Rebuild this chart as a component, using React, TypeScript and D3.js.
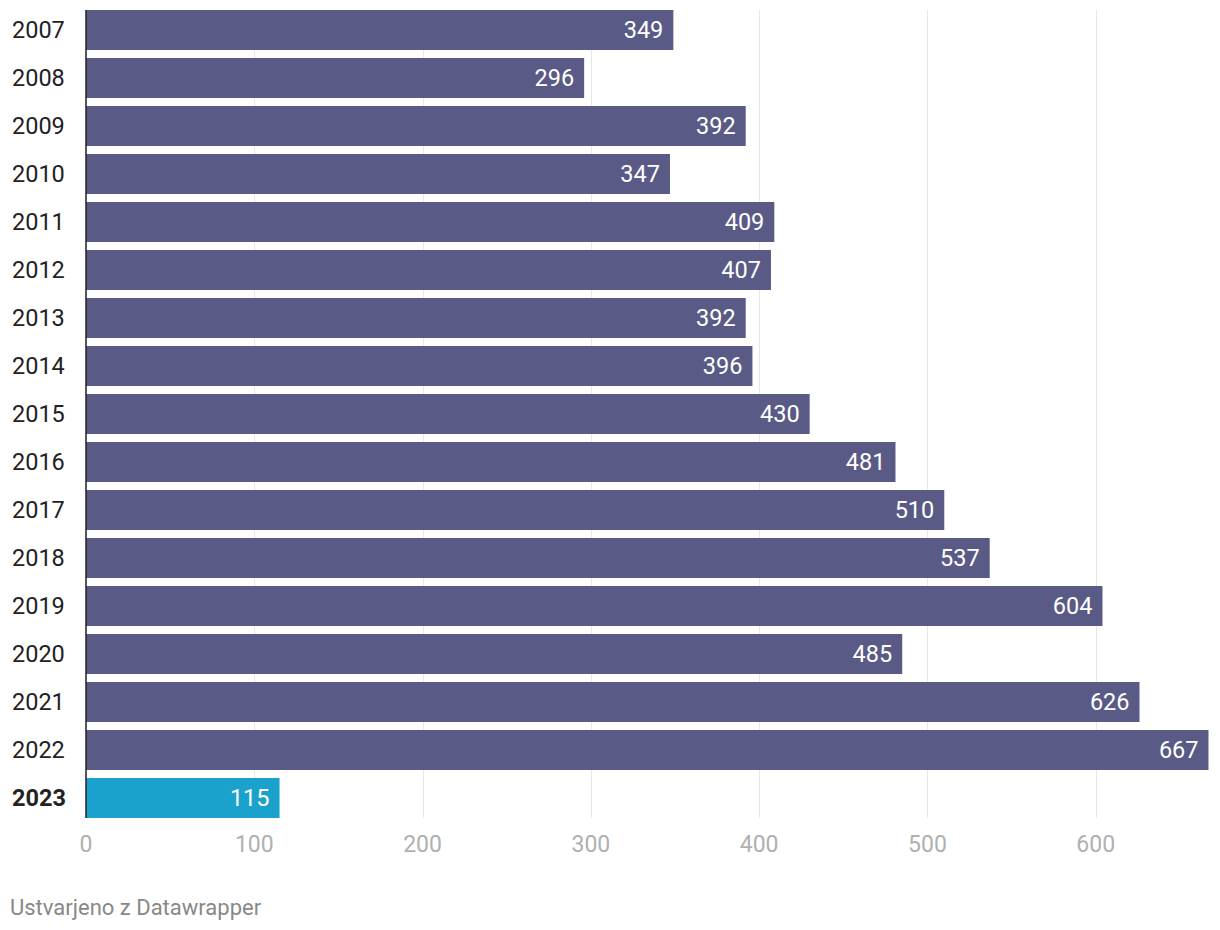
import React from "react";
import * as d3 from "d3";

const years = ["2007","2008","2009","2010","2011","2012","2013","2014","2015","2016","2017","2018","2019","2020","2021","2022","2023"];
const values = [349,296,392,347,409,407,392,396,430,481,510,537,604,485,626,667,115];
const ticks = [0,100,200,300,400,500,600];

export default function App() {
  const W = 1220, H = 930;
  const x = d3.scaleLinear().domain([0, 667]).range([86, 1208.5]);
  const y = d3.scaleBand().domain(years).range([10, 10 + 48 * years.length]).paddingInner(8 / 48).paddingOuter(0);
  const bw = 40;
  const top = 10, bottom = 818;
  const font = "Roboto, sans-serif";
  return (
    <svg width={W} height={H} style={{ position: "absolute", left: 0, top: 0 }} fontFamily={font}>
      {ticks.map(t => (
        <line key={"g" + t} x1={Math.round(x(t)) + 0.5} x2={Math.round(x(t)) + 0.5} y1={top} y2={bottom} stroke="#e5e5e5" strokeWidth={1} />
      ))}
      {years.map((yr, i) => {
        const last = i === years.length - 1;
        const y0 = 10 + i * 48;
        return (
          <g key={yr}>
            <rect x={x(0)} y={y0} width={x(values[i]) - x(0)} height={bw} fill={last ? "#1ba2cc" : "#5a5a86"} />
            <text x={12} y={y0 + bw / 2} dy="0.35em" fontSize={23.5} fill="#222" fontWeight={last ? 700 : 400}>{yr}</text>
            <text x={x(values[i]) - 10} y={y0 + bw / 2} dy="0.35em" textAnchor="end" fontSize={23.5} fill="#fff">{values[i]}</text>
          </g>
        );
      })}
      <line x1={86} x2={86} y1={top} y2={bottom} stroke="#222" strokeWidth={1.5} />
      {ticks.map(t => (
        <text key={"t" + t} x={x(t)} y={844} dy="0.35em" textAnchor="middle" fontSize={23} fill="#b0b0b0">{t}</text>
      ))}
      <text x={10} y={907} dy="0.35em" fontSize={22} fill="#888">Ustvarjeno z Datawrapper</text>
    </svg>
  );
}
